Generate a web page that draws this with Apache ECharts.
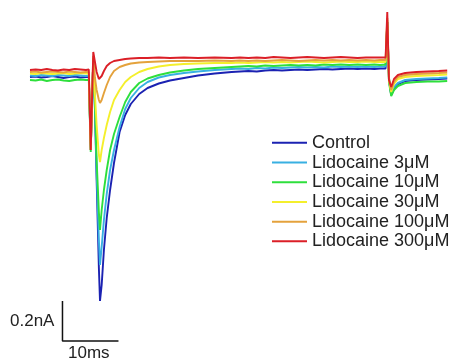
<!DOCTYPE html>
<html>
<head>
<meta charset="utf-8">
<script src="https://cdn.jsdelivr.net/npm/echarts@6.0.0/dist/echarts.min.js"></script>
<style>
html,body{margin:0;padding:0;background:#fff;}
#chart{width:452px;height:364px;}
</style>
</head>
<body>
<div id="chart"></div>
<script>
// time (ms) shared by all traces
const timeMs = [0,1,2,3,4,5,6,7,8,9,10,
  10.5,10.75,10.85,11.05,11.3,11.6,11.9,12.3,12.5,
  12.8,13.2,13.7,14.3,15,16,17,18,19.5,21,23,25,27.5,30,33,36,
  37.5,39,40.5,42,43.5,45,46.5,48,49.5,51,52.5,54,55.5,57,58.5,60,61.5,
  62.5,63.5,63.8,64.1,64.5,65,65.7,67,69,71,73,74.5];

// current (nA)
const control = [-0.02,-0.0175,-0.0225,-0.02,-0.015,-0.02,-0.025,-0.02,-0.0175,-0.0225,-0.02,
  -0.02,-0.02,-0.385,-0.16,0.065,-0.185,-0.535,-0.975,-1.14,
  -1.06,-0.885,-0.725,-0.585,-0.45,-0.295,-0.21,-0.155,-0.105,-0.075,-0.0525,-0.0375,-0.025,-0.0125,-0.0025,0.005,
  0.0075,0.01,0.0075,0.0125,0.015,0.0125,0.015,0.0175,0.015,0.0175,0.02,0.0175,0.02,0.0225,0.02,0.0225,0.02,
  0.0225,0.0225,0.255,-0.035,-0.11,-0.08,-0.055,-0.04,-0.035,-0.0325,-0.03,-0.0275];

const lido3 = [-0.0125,-0.015,-0.01,-0.0125,-0.015,-0.01,-0.0125,-0.015,-0.01,-0.0125,-0.015,
  -0.0125,-0.0125,-0.385,-0.16,0.065,-0.175,-0.495,-0.835,-0.96,
  -0.87,-0.735,-0.605,-0.485,-0.385,-0.27,-0.18,-0.125,-0.075,-0.045,-0.0225,-0.01,0,0.0075,0.015,0.02,
  0.0225,0.02,0.025,0.0225,0.0275,0.025,0.0275,0.03,0.0275,0.03,0.0275,0.0325,0.03,0.0325,0.03,0.0325,0.03,
  0.0325,0.0325,0.255,-0.025,-0.105,-0.07,-0.05,-0.035,-0.03,-0.0275,-0.025,-0.0225];

const lido10 = [-0.035,-0.0375,-0.0325,-0.04,-0.035,-0.0325,-0.0375,-0.04,-0.035,-0.0325,-0.035,
  -0.035,-0.035,-0.395,-0.16,0.065,-0.16,-0.435,-0.695,-0.785,
  -0.685,-0.585,-0.485,-0.385,-0.305,-0.22,-0.145,-0.095,-0.05,-0.0275,-0.01,0.0025,0.0125,0.02,0.025,0.03,
  0.0325,0.035,0.0325,0.0375,0.035,0.0375,0.04,0.0375,0.04,0.0375,0.0425,0.04,0.0425,0.04,0.0425,0.04,0.0425,
  0.04,0.0425,0.255,-0.045,-0.115,-0.085,-0.065,-0.05,-0.045,-0.0425,-0.0425,-0.04];

const lido30 = [-0.0025,-0.005,0,-0.0025,-0.005,-0.0025,0,-0.005,-0.0025,0,-0.0025,
  -0.0025,-0.0025,-0.385,-0.16,0.075,-0.11,-0.26,-0.41,-0.445,
  -0.385,-0.325,-0.26,-0.195,-0.135,-0.085,-0.045,-0.02,0.005,0.02,0.0325,0.04,0.045,0.0475,0.05,0.05,
  0.0525,0.05,0.0525,0.055,0.0525,0.055,0.0525,0.055,0.0575,0.055,0.0525,0.055,0.0575,0.055,0.055,0.0575,0.055,
  0.055,0.055,0.265,-0.035,-0.095,-0.055,-0.03,-0.02,-0.015,-0.0125,-0.01,-0.0075];

const lido100 = [0.005,0.0075,0.0025,0.005,0.0075,0.005,0.0025,0.0075,0.005,0.0025,0.005,
  0.005,0.005,-0.385,-0.16,0.085,-0.025,-0.085,-0.135,-0.15,
  -0.135,-0.1,-0.06,-0.02,0.01,0.03,0.04,0.0475,0.0525,0.055,0.0575,0.06,0.06,0.06,0.0625,0.06,
  0.0625,0.06,0.0625,0.06,0.0625,0.065,0.0625,0.06,0.0625,0.065,0.0625,0.065,0.0625,0.065,0.0625,0.065,0.0625,
  0.065,0.065,0.275,-0.025,-0.085,-0.045,-0.02,-0.01,-0.005,-0.0025,0,0.0025];

const lido300 = [0.015,0.0175,0.015,0.02,0.015,0.0125,0.0175,0.015,0.02,0.0175,0.015,
  0.0175,0.015,-0.385,-0.16,0.105,0.055,0.005,-0.03,-0.03,
  -0.015,0.01,0.035,0.05,0.06,0.065,0.07,0.0725,0.075,0.075,0.0775,0.075,0.0775,0.075,0.0775,0.075,
  0.0775,0.075,0.0775,0.075,0.08,0.0775,0.075,0.0775,0.08,0.0775,0.075,0.0775,0.08,0.0775,0.075,0.0775,0.0775,
  0.0775,0.0775,0.305,-0.035,-0.07,-0.03,-0.01,0,0.005,0.0075,0.01,0.0125];

const seriesNames = ['Control','Lidocaine 3μM','Lidocaine 10μM','Lidocaine 30μM','Lidocaine 100μM','Lidocaine 300μM'];
const seriesValues = [control, lido3, lido10, lido30, lido100, lido300];
const seriesColors = ['#1b22b2','#38b0e2','#2edf3c','#f4ef2c','#e4a23c','#db1f27'];

// scale bar: 10 ms x 0.2 nA
const scaleBarTimeMs = [5.8, 5.8, 15.8];
const scaleBarNa = [-1.14, -1.34, -1.34];
const scaleLabels = ['0.2nA', '10ms'];

const FONT = 'Liberation Sans, Arial, sans-serif';
const chart = echarts.init(document.getElementById('chart'));

const series = seriesNames.map((name, k) => ({
  name: name,
  type: 'line',
  data: timeMs.map((t, i) => [t, seriesValues[k][i]]),
  showSymbol: false,
  symbol: 'none',
  color: seriesColors[k],
  lineStyle: { color: seriesColors[k], width: 1.9 },
  z: 2 + k
}));
series.push({
  name: 'scale',
  type: 'line',
  data: scaleBarTimeMs.map((t, i) => [t, scaleBarNa[i]]),
  symbol: 'none',
  color: '#111',
  lineStyle: { color: '#111', width: 1.5 },
  z: 10
});

chart.setOption({
  animation: false,
  backgroundColor: '#fff',
  grid: { left: 30, right: 2, top: 0, bottom: 0 },
  xAxis: { type: 'value', min: 0, max: 75, show: false },
  yAxis: { type: 'value', min: -1.455, max: 0.365, show: false },
  legend: {
    data: seriesNames,
    orient: 'vertical',
    left: 272,
    top: 133,
    padding: 0,
    icon: 'rect',
    itemWidth: 35,
    itemHeight: 2,
    itemGap: 0,
    textStyle: { fontFamily: FONT, fontSize: 18, color: '#222', lineHeight: 19.7 }
  },
  graphic: [
    { type: 'text', left: 10, top: 313, style: { text: scaleLabels[0], font: '17px ' + FONT, fill: '#222' } },
    { type: 'text', left: 68, top: 345, style: { text: scaleLabels[1], font: '17px ' + FONT, fill: '#222' } }
  ],
  series: series
});
</script>
</body>
</html>
